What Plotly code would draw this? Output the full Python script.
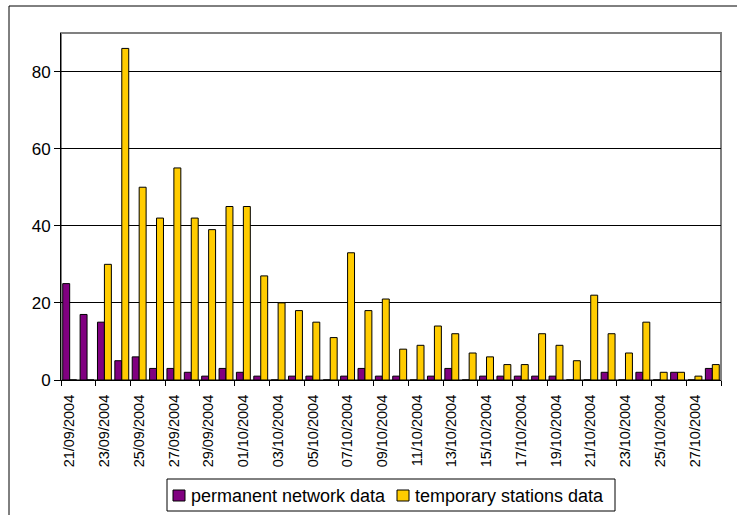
import plotly.graph_objects as go

# Daily counts, 21/09/2004 .. 28/10/2004
dates = [
    "21/09/2004", "22/09/2004", "23/09/2004", "24/09/2004", "25/09/2004",
    "26/09/2004", "27/09/2004", "28/09/2004", "29/09/2004", "30/09/2004",
    "01/10/2004", "02/10/2004", "03/10/2004", "04/10/2004", "05/10/2004",
    "06/10/2004", "07/10/2004", "08/10/2004", "09/10/2004", "10/10/2004",
    "11/10/2004", "12/10/2004", "13/10/2004", "14/10/2004", "15/10/2004",
    "16/10/2004", "17/10/2004", "18/10/2004", "19/10/2004", "20/10/2004",
    "21/10/2004", "22/10/2004", "23/10/2004", "24/10/2004", "25/10/2004",
    "26/10/2004", "27/10/2004", "28/10/2004",
]
permanent = [25, 17, 15, 5, 6, 3, 3, 2, 1, 3,
             2, 1, 0, 1, 1, 0, 1, 3, 1, 1,
             0, 1, 3, 0, 1, 1, 1, 1, 1, 0,
             0, 2, 0, 2, 0, 2, 0, 3]
temporary = [0, 0, 30, 86, 50, 42, 55, 42, 39, 45,
             45, 27, 20, 18, 15, 11, 33, 18, 21, 8,
             9, 14, 12, 7, 6, 4, 4, 12, 9, 5,
             22, 12, 7, 15, 2, 2, 1, 4]
y_ticks = [0, 20, 40, 60, 80]
series_names = ["permanent network data", "temporary stations data"]
series_colors = ["#800080", "#FFCC00"]

x = list(range(len(dates)))
label_pos = x[::2]
label_text = dates[::2]
boundary_ticks = [i - 0.5 for i in range(0, len(dates) + 1, 2)]

FONT = "Liberation Sans, Arial, sans-serif"
W, H = 737, 515
ML, MR, MT, MB = 61, 16, 33, 135
PW, PH = W - ML - MR, H - MT - MB


def px(xp):
    """pixel column -> paper x"""
    return (xp - ML) / PW


def py(yp):
    """pixel row -> paper y"""
    return (H - MB - yp) / PH


fig = go.Figure()
for name, vals, col in zip(series_names, [permanent, temporary], series_colors):
    fig.add_trace(go.Bar(
        x=x, y=vals, name=name,
        marker=dict(color=col, line=dict(color="black", width=1)),
    ))

shapes = [
    # plot area frame
    dict(type="rect", xref="paper", yref="paper", x0=0, y0=0, x1=1, y1=1,
         line=dict(color="#808080", width=2), layer="below"),
    # chart area frame
    dict(type="rect", xref="paper", yref="paper",
         x0=px(9), y0=py(530), x1=px(750), y1=py(6),
         line=dict(color="black", width=1)),
    # legend box
    dict(type="rect", xref="paper", yref="paper",
         x0=px(167), y0=py(511), x1=px(615), y1=py(479),
         line=dict(color="black", width=1), fillcolor="white"),
]
annotations = []
# legend entries: swatch + label
for sx, name, col in zip([173, 397], series_names, series_colors):
    shapes.append(dict(type="rect", xref="paper", yref="paper",
                       x0=px(sx), y0=py(501), x1=px(sx + 12), y1=py(490),
                       line=dict(color="black", width=1), fillcolor=col))
    annotations.append(dict(xref="paper", yref="paper", x=px(sx + 16), y=py(495.5),
                            text=name, showarrow=False, xanchor="left",
                            yanchor="middle", font=dict(size=18)))

fig.update_layout(
    width=W, height=H,
    margin=dict(l=ML, r=MR, t=MT, b=MB, autoexpand=False),
    paper_bgcolor="white", plot_bgcolor="white",
    barmode="group", bargap=0.2, bargroupgap=0,
    font=dict(family=FONT, size=17, color="black"),
    showlegend=False,
    shapes=shapes,
    annotations=annotations,
)

fig.update_xaxes(
    range=[-0.5, len(dates) - 0.5],
    tickmode="array", tickvals=label_pos, ticktext=label_text,
    tickangle=-90, ticks="", tickfont=dict(size=14.5),
    ticklabelstandoff=8,
    showline=True, linecolor="black", linewidth=1,
    showgrid=False, zeroline=False,
    minor=dict(tickmode="array", tickvals=boundary_ticks, ticks="outside",
               ticklen=5, tickcolor="black", tickwidth=1, showgrid=False),
)
fig.update_yaxes(
    range=[0, 90], tickmode="array", tickvals=y_ticks,
    ticks="outside", ticklen=6, tickcolor="black",
    showline=True, linecolor="black", linewidth=1,
    showgrid=True, gridcolor="black", gridwidth=1,
    zeroline=False, tickfont=dict(size=17),
)

fig.write_html("out.html")
